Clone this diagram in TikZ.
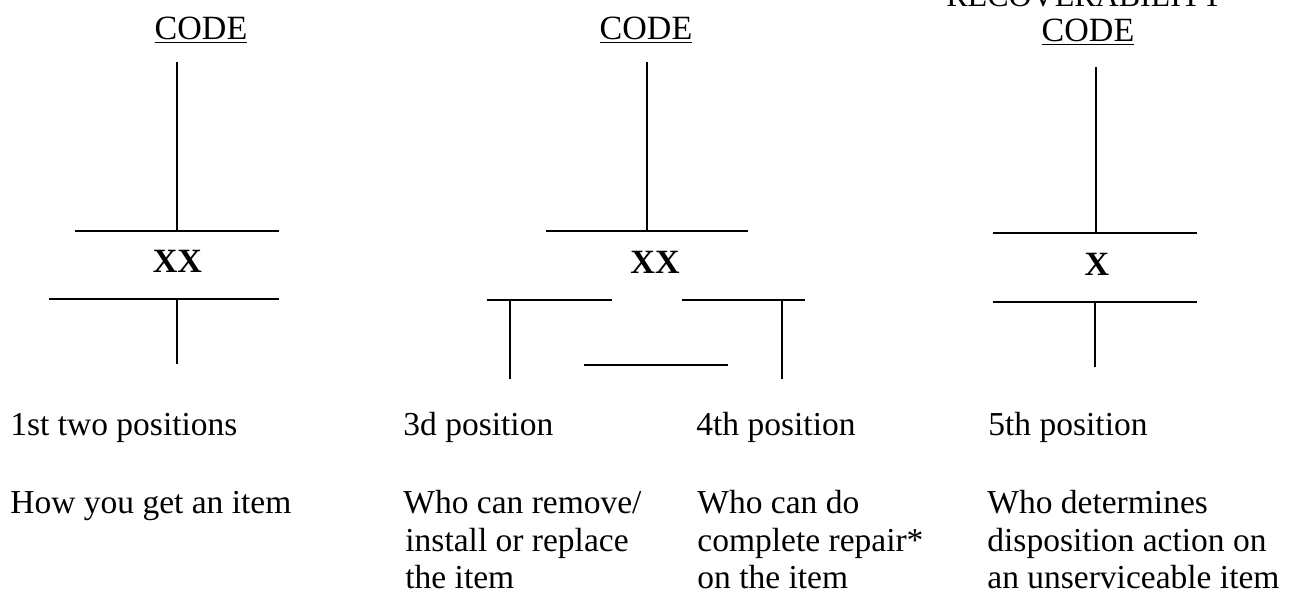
\documentclass[tikz,border=0pt]{standalone}
\usepackage{fontspec}
\setmainfont{Liberation Serif}
\begin{document}
\begin{tikzpicture}[x=0.5pt,y=-0.5pt,
  hline/.style={line width=1.3pt},
  vline/.style={line width=1pt},
  headtxt/.style={inner sep=0pt, anchor=base, font=\fontsize{17}{20}\selectfont},
  cuttxt/.style={inner sep=0pt, anchor=base, font=\fontsize{16}{20}\selectfont},
  marktxt/.style={inner sep=0pt, anchor=base, font=\fontsize{17}{20}\selectfont\bfseries},
  postxt/.style={inner sep=0pt, anchor=base west, font=\fontsize{16.75}{20}\selectfont},
  desctxt/.style={inner sep=0pt, anchor=base west, font=\fontsize{16.75}{20}\selectfont}]
\useasboundingbox (0,0) rectangle (1289,595);

% headings
\node[cuttxt] (rec) at (1085,6) {RECOVERABILITY};
\node[headtxt] (code1) at (201,39) {\underline{CODE}};
\node[headtxt] (code2) at (646,39) {\underline{CODE}};
\node[headtxt] (code3) at (1088,41) {\underline{CODE}};

% code marks
\node[marktxt] (xx1) at (177.5,272) {XX};
\node[marktxt] (xx2) at (655,273) {XX};
\node[marktxt] (x3) at (1097,275) {X};

% column 1
\coordinate (c1t) at (177,62);
\coordinate (c1m) at (177,231);
\coordinate (c1l) at (75,231);
\coordinate (c1r) at (279,231);
\coordinate (c1bl) at (49,299);
\coordinate (c1br) at (279,299);
\coordinate (c1bm) at (177,299);
\coordinate (c1e) at (177,364);
\draw[vline] (c1t) -- (c1m);
\draw[hline] (c1l) -- (c1r);
\draw[hline] (c1bl) -- (c1br);
\draw[vline] (c1bm) -- (c1e);

% column 2
\coordinate (c2t) at (647,62);
\coordinate (c2m) at (647,231);
\coordinate (c2l) at (546,231);
\coordinate (c2r) at (748,231);
\coordinate (c2al) at (487,300);
\coordinate (c2ar) at (612,300);
\coordinate (c2av) at (510,300);
\coordinate (c2ae) at (510,379);
\coordinate (c2bl) at (682,300);
\coordinate (c2br) at (805,300);
\coordinate (c2bv) at (782,300);
\coordinate (c2be) at (782,379);
\coordinate (c2ml) at (584,365);
\coordinate (c2mr) at (728,365);
\draw[vline] (c2t) -- (c2m);
\draw[hline] (c2l) -- (c2r);
\draw[hline] (c2al) -- (c2ar);
\draw[vline] (c2av) -- (c2ae);
\draw[hline] (c2bl) -- (c2br);
\draw[vline] (c2bv) -- (c2be);
\draw[hline] (c2ml) -- (c2mr);

% column 3
\coordinate (c3t) at (1096,67);
\coordinate (c3m) at (1096,233);
\coordinate (c3l) at (993,233);
\coordinate (c3r) at (1197,233);
\coordinate (c3bl) at (993,302);
\coordinate (c3br) at (1197,302);
\coordinate (c3bm) at (1095,302);
\coordinate (c3e) at (1095,367);
\draw[vline] (c3t) -- (c3m);
\draw[hline] (c3l) -- (c3r);
\draw[hline] (c3bl) -- (c3br);
\draw[vline] (c3bm) -- (c3e);

% position labels
\node[postxt] (p1) at (10,435) {1st two positions};
\node[postxt] (p3) at (403,435) {3d position};
\node[postxt] (p4) at (696,435) {4th position};
\node[postxt] (p5) at (988,435) {5th position};

% descriptions
\node[desctxt] (d1a) at (10,513) {How you get an item};
\node[desctxt] (d3a) at (403,513) {Who can remove/};
\node[desctxt] (d3b) at (405,551) {install or replace};
\node[desctxt] (d3c) at (405,588) {the item};
\node[desctxt] (d4a) at (697,513) {Who can do};
\node[desctxt] (d4b) at (697,551) {complete repair*};
\node[desctxt] (d4c) at (697,588) {on the item};
\node[desctxt] (d5a) at (987,513) {Who determines};
\node[desctxt] (d5b) at (987,551) {disposition action on};
\node[desctxt] (d5c) at (987,588) {an unserviceable item};
\end{tikzpicture}
\end{document}
